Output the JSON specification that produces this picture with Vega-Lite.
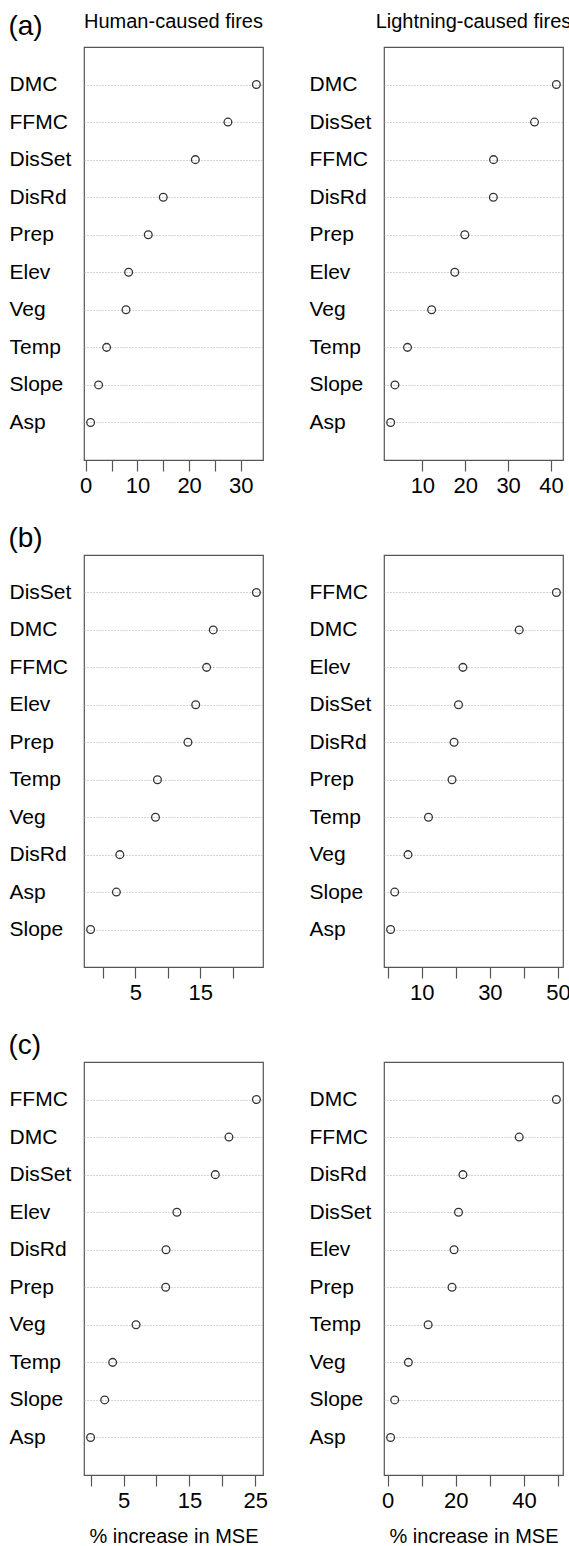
{
  "$schema": "https://vega.github.io/schema/vega-lite/v6.json",
  "padding": {"left": 8, "top": 11, "right": 0, "bottom": 0},
  "spacing": 28,
  "background": "white",
  "datasets": {
    "d": [
      {"p": "a_h", "var": "DMC", "v": 33.0},
      {"p": "a_h", "var": "FFMC", "v": 27.5},
      {"p": "a_h", "var": "DisSet", "v": 21.2},
      {"p": "a_h", "var": "DisRd", "v": 15.0},
      {"p": "a_h", "var": "Prep", "v": 12.1},
      {"p": "a_h", "var": "Elev", "v": 8.3},
      {"p": "a_h", "var": "Veg", "v": 7.8},
      {"p": "a_h", "var": "Temp", "v": 4.05},
      {"p": "a_h", "var": "Slope", "v": 2.5},
      {"p": "a_h", "var": "Asp", "v": 0.96},
      {"p": "a_l", "var": "DMC", "v": 41.25},
      {"p": "a_l", "var": "DisSet", "v": 36.16},
      {"p": "a_l", "var": "FFMC", "v": 26.6},
      {"p": "a_l", "var": "DisRd", "v": 26.55},
      {"p": "a_l", "var": "Prep", "v": 19.9},
      {"p": "a_l", "var": "Elev", "v": 17.56},
      {"p": "a_l", "var": "Veg", "v": 12.16},
      {"p": "a_l", "var": "Temp", "v": 6.53},
      {"p": "a_l", "var": "Slope", "v": 3.6},
      {"p": "a_l", "var": "Asp", "v": 2.6},
      {"p": "b_h", "var": "DisSet", "v": 23.65},
      {"p": "b_h", "var": "DMC", "v": 17.0},
      {"p": "b_h", "var": "FFMC", "v": 15.98},
      {"p": "b_h", "var": "Elev", "v": 14.3},
      {"p": "b_h", "var": "Prep", "v": 13.1},
      {"p": "b_h", "var": "Temp", "v": 8.4},
      {"p": "b_h", "var": "Veg", "v": 8.1},
      {"p": "b_h", "var": "DisRd", "v": 2.6},
      {"p": "b_h", "var": "Asp", "v": 2.07},
      {"p": "b_h", "var": "Slope", "v": -1.9},
      {"p": "b_l", "var": "FFMC", "v": 49.5},
      {"p": "b_l", "var": "DMC", "v": 38.6},
      {"p": "b_l", "var": "Elev", "v": 22.1},
      {"p": "b_l", "var": "DisSet", "v": 20.8},
      {"p": "b_l", "var": "DisRd", "v": 19.5},
      {"p": "b_l", "var": "Prep", "v": 18.9},
      {"p": "b_l", "var": "Temp", "v": 12.0},
      {"p": "b_l", "var": "Veg", "v": 6.0},
      {"p": "b_l", "var": "Slope", "v": 2.1},
      {"p": "b_l", "var": "Asp", "v": 0.9},
      {"p": "c_h", "var": "FFMC", "v": 25.17},
      {"p": "c_h", "var": "DMC", "v": 21.0},
      {"p": "c_h", "var": "DisSet", "v": 18.93},
      {"p": "c_h", "var": "Elev", "v": 13.1},
      {"p": "c_h", "var": "DisRd", "v": 11.45},
      {"p": "c_h", "var": "Prep", "v": 11.4},
      {"p": "c_h", "var": "Veg", "v": 6.9},
      {"p": "c_h", "var": "Temp", "v": 3.35},
      {"p": "c_h", "var": "Slope", "v": 2.14},
      {"p": "c_h", "var": "Asp", "v": 0.0},
      {"p": "c_l", "var": "DMC", "v": 49.5},
      {"p": "c_l", "var": "FFMC", "v": 38.6},
      {"p": "c_l", "var": "DisRd", "v": 22.1},
      {"p": "c_l", "var": "DisSet", "v": 20.8},
      {"p": "c_l", "var": "Elev", "v": 19.5},
      {"p": "c_l", "var": "Prep", "v": 18.9},
      {"p": "c_l", "var": "Temp", "v": 11.9},
      {"p": "c_l", "var": "Veg", "v": 6.1},
      {"p": "c_l", "var": "Slope", "v": 2.1},
      {"p": "c_l", "var": "Asp", "v": 0.9}
    ]
  },
  "data": {"name": "d"},
  "config": {
    "font": "Liberation Sans",
    "view": {"stroke": "#555", "strokeWidth": 1.2},
    "axisX": {"domain": false, "grid": false, "tickSize": 11, "tickColor": "#555", "tickWidth": 1.2, "labelFontSize": 22, "labelPadding": 4, "labelFlush": false, "labelOverlap": false, "labelColor": "#000", "titleFontSize": 20, "titleFontWeight": "normal", "titlePadding": 15, "titleColor": "#000"},
    "axisY": {"domain": false, "ticks": false, "tickSize": 0, "labelAlign": "left", "labelPadding": 75, "labelFontSize": 21, "labelColor": "#000", "grid": true, "gridDash": [1, 2], "gridColor": "#aaa", "gridWidth": 1, "minExtent": 75, "maxExtent": 75, "labelLimit": 0, "title": null},
    "title": {"fontWeight": "normal", "color": "#000", "baseline": "alphabetic"}
  },
  "vconcat": [
    {
      "title": {"text": "(a)", "anchor": "start", "frame": "bounds", "fontSize": 28, "offset": 0, "dy": 30},
      "bounds": "flush",
      "spacing": 121,
      "hconcat": [
        {
          "width": 179, "height": 413,
          "title": {"text": "Human-caused fires", "fontSize": 20, "offset": 15, "anchor": "middle"},
          "transform": [{"filter": "datum.p == 'a_h'"}],
          "mark": {"type": "point", "shape": "circle", "filled": false, "color": "#333", "strokeWidth": 1.3, "size": 60, "opacity": 1},
          "encoding": {
            "x": {"field": "v", "type": "quantitative", "scale": {"domain": [-0.32, 34.28], "nice": false, "zero": false}, "axis": {"values": [0, 5, 10, 15, 20, 25, 30], "labelExpr": "datum.value % 10 == 0 ? datum.label : ''", "title": null}},
            "y": {"field": "var", "type": "nominal", "sort": null, "scale": {"type": "point", "padding": 1}, "axis": {"title": null, "grid": true}}
          }
        },
        {
          "width": 179, "height": 413,
          "title": {"text": "Lightning-caused fires", "fontSize": 20, "offset": 15, "anchor": "middle"},
          "transform": [{"filter": "datum.p == 'a_l'"}],
          "mark": {"type": "point", "shape": "circle", "filled": false, "color": "#333", "strokeWidth": 1.3, "size": 60, "opacity": 1},
          "encoding": {
            "x": {"field": "v", "type": "quantitative", "scale": {"domain": [1.05, 42.8], "nice": false, "zero": false}, "axis": {"values": [10, 20, 30, 40], "title": null}},
            "y": {"field": "var", "type": "nominal", "sort": null, "scale": {"type": "point", "padding": 1}, "axis": {"title": null, "grid": true}}
          }
        }
      ]
    },
    {
      "title": {"text": "(b)", "anchor": "start", "frame": "bounds", "fontSize": 28, "offset": 1},
      "bounds": "flush",
      "spacing": 121,
      "hconcat": [
        {
          "width": 179, "height": 412,
          "transform": [{"filter": "datum.p == 'b_h'"}],
          "mark": {"type": "point", "shape": "circle", "filled": false, "color": "#333", "strokeWidth": 1.3, "size": 60, "opacity": 1},
          "encoding": {
            "x": {"field": "v", "type": "quantitative", "scale": {"domain": [-2.92, 24.67], "nice": false, "zero": false}, "axis": {"values": [0, 5, 10, 15, 20], "labelExpr": "datum.value == 5 || datum.value == 15 ? datum.label : ''", "title": null}},
            "y": {"field": "var", "type": "nominal", "sort": null, "scale": {"type": "point", "padding": 1}, "axis": {"title": null, "grid": true}}
          }
        },
        {
          "width": 179, "height": 412,
          "transform": [{"filter": "datum.p == 'b_l'"}],
          "mark": {"type": "point", "shape": "circle", "filled": false, "color": "#333", "strokeWidth": 1.3, "size": 60, "opacity": 1},
          "encoding": {
            "x": {"field": "v", "type": "quantitative", "scale": {"domain": [-1.04, 51.44], "nice": false, "zero": false}, "axis": {"values": [0, 10, 20, 30, 40, 50], "labelExpr": "datum.value == 10 || datum.value == 30 || datum.value == 50 ? datum.label : ''", "title": null}},
            "y": {"field": "var", "type": "nominal", "sort": null, "scale": {"type": "point", "padding": 1}, "axis": {"title": null, "grid": true}}
          }
        }
      ]
    },
    {
      "title": {"text": "(c)", "anchor": "start", "frame": "bounds", "fontSize": 28, "offset": 1},
      "bounds": "flush",
      "spacing": 121,
      "hconcat": [
        {
          "width": 179, "height": 413,
          "transform": [{"filter": "datum.p == 'c_h'"}],
          "mark": {"type": "point", "shape": "circle", "filled": false, "color": "#333", "strokeWidth": 1.3, "size": 60, "opacity": 1},
          "encoding": {
            "x": {"field": "v", "type": "quantitative", "scale": {"domain": [-1.0, 26.17], "nice": false, "zero": false}, "axis": {"values": [0, 5, 10, 15, 20, 25], "labelExpr": "datum.value == 5 || datum.value == 15 || datum.value == 25 ? datum.label : ''", "title": "% increase in MSE"}},
            "y": {"field": "var", "type": "nominal", "sort": null, "scale": {"type": "point", "padding": 1}, "axis": {"title": null, "grid": true}}
          }
        },
        {
          "width": 179, "height": 413,
          "transform": [{"filter": "datum.p == 'c_l'"}],
          "mark": {"type": "point", "shape": "circle", "filled": false, "color": "#333", "strokeWidth": 1.3, "size": 60, "opacity": 1},
          "encoding": {
            "x": {"field": "v", "type": "quantitative", "scale": {"domain": [-1.04, 51.44], "nice": false, "zero": false}, "axis": {"values": [0, 10, 20, 30, 40, 50], "labelExpr": "datum.value == 0 || datum.value == 20 || datum.value == 40 ? datum.label : ''", "title": "% increase in MSE"}},
            "y": {"field": "var", "type": "nominal", "sort": null, "scale": {"type": "point", "padding": 1}, "axis": {"title": null, "grid": true}}
          }
        }
      ]
    }
  ]
}
